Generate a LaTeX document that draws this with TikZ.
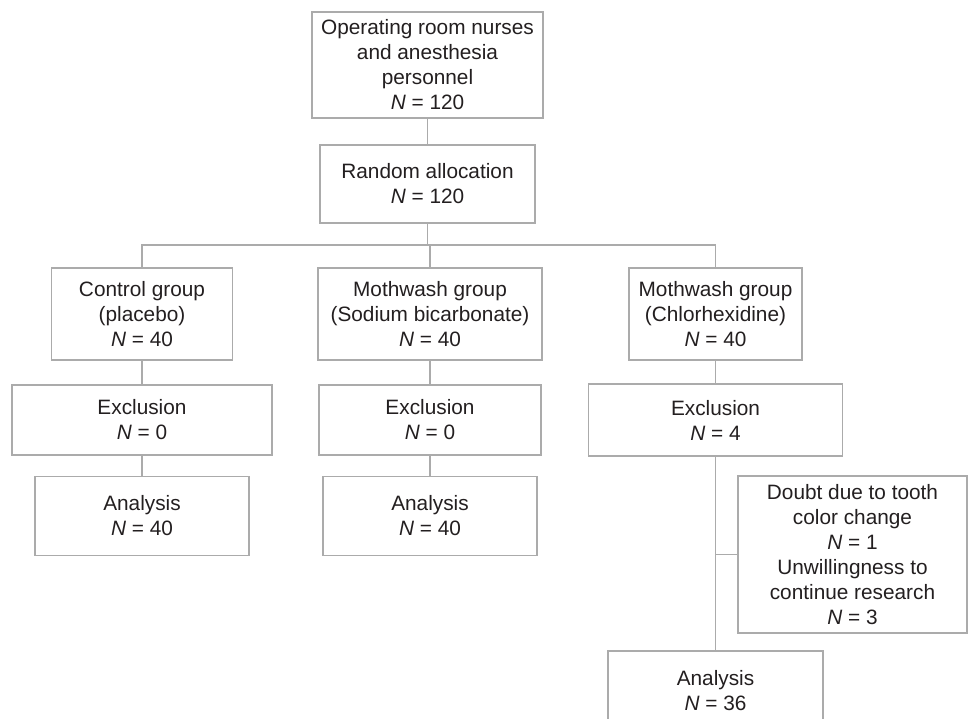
\documentclass[tikz,border=0pt]{standalone}
\usepackage{fontspec}
\setmainfont{Liberation Sans}
\definecolor{boxgray}{HTML}{ABABAB}
\definecolor{txtgray}{HTML}{231F20}
\begin{document}
\begin{tikzpicture}[x=1pt,y=1pt,
  box/.style={draw=boxgray, line width=1.3pt, fill=white, text=txtgray, align=center,
    inner sep=0pt, font=\fontsize{20.8}{25}\selectfont},
  link/.style={draw=boxgray, line width=1.3pt}]
\useasboundingbox (0,0) rectangle (968,-719);
\node[box, minimum width=231, minimum height=106] (top) at (427.5,-65) {Operating room nurses\\and anesthesia\\personnel\\\textit{N} = 120};
\node[box, minimum width=215, minimum height=78] (rand) at (427.5,-184) {Random allocation\\\textit{N} = 120};
\coordinate (br) at (427.5,-245);
\node[box, minimum width=181, minimum height=92] (ctrl) at (142,-314) {Control group\\(placebo)\\\textit{N} = 40};
\node[box, minimum width=224, minimum height=92] (mid) at (430,-314) {Mothwash group\\(Sodium bicarbonate)\\\textit{N} = 40};
\node[box, minimum width=173, minimum height=92] (chl) at (715.5,-314) {Mothwash group\\(Chlorhexidine)\\\textit{N} = 40};
\node[box, minimum width=260, minimum height=70] (exc1) at (142,-420) {Exclusion\\\textit{N} = 0};
\node[box, minimum width=222, minimum height=70] (exc2) at (430,-420) {Exclusion\\\textit{N} = 0};
\node[box, minimum width=254, minimum height=72] (exc3) at (715.5,-420) {Exclusion\\\textit{N} = 4};
\node[box, minimum width=214, minimum height=79] (an1) at (142,-516) {Analysis\\\textit{N} = 40};
\node[box, minimum width=214, minimum height=79] (an2) at (430,-516) {Analysis\\\textit{N} = 40};
\node[box, minimum width=229, minimum height=157] (side) at (852.5,-554.5) {Doubt due to tooth\\color change\\\textit{N} = 1\\Unwillingness to\\continue research\\\textit{N} = 3};
\node[box, minimum width=215, minimum height=79] (an3) at (715.5,-690.5) {Analysis\\\textit{N} = 36};
\draw[link] (top) -- (rand);
\draw[link] (rand) -- (br);
\draw[link] (ctrl.north) |- (br) -| (chl.north);
\draw[link] (mid.north) -- (mid.north |- br);
\draw[link] (ctrl) -- (exc1);
\draw[link] (exc1) -- (an1);
\draw[link] (mid) -- (exc2);
\draw[link] (exc2) -- (an2);
\draw[link] (chl) -- (exc3);
\draw[link] (exc3) -- (an3);
\draw[link] (exc3.south |- side.west) -- (side.west);
\end{tikzpicture}
\end{document}
